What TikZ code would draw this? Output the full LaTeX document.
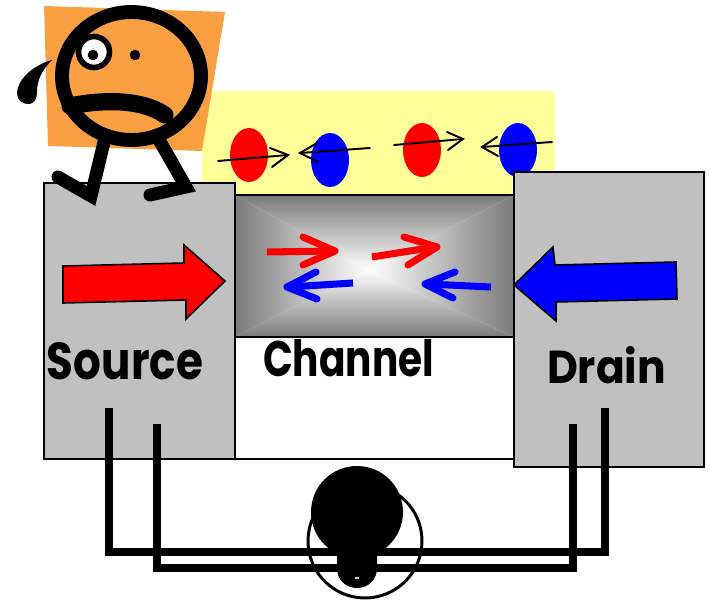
\documentclass[tikz,border=0pt]{standalone}
\usepackage{fontspec}
\setmainfont{Poppins}
\usetikzlibrary{arrows.meta}
\definecolor{facefill}{RGB}{250,160,66}
\definecolor{notefill}{RGB}{255,255,153}
\definecolor{platefill}{RGB}{192,192,192}
\definecolor{chanedge}{RGB}{122,122,122}
\definecolor{chanmid}{RGB}{200,200,200}
\definecolor{glint}{RGB}{230,220,150}
\newcommand{\platelabel}[3]{\resizebox{#1}{#2}{\bfseries #3}}

\begin{document}
\begin{tikzpicture}[x=0.02cm, y=-0.02cm,
  plate/.style={draw=black, line width=1.1pt, fill=platefill, inner sep=0pt, outer sep=0pt, anchor=north west},
  bodybox/.style={draw=black, line width=1.1pt, fill=white, inner sep=0pt, outer sep=0pt, anchor=north west},
  frame/.style={draw=black, line width=1.1pt, inner sep=0pt, outer sep=0pt, anchor=north west},
  platetext/.style={inner sep=0pt, outer sep=0pt, anchor=base west},
  blockarrow/.style={draw=black, line width=0.9pt, line join=miter},
  thinarrow/.style={draw=black, line width=1.1pt, line cap=round, line join=miter},
  chanshaft/.style={line width=4pt, line cap=butt},
  chanbarb/.style={line width=4pt, line cap=round, line join=round},
  wire/.style={draw=black, line width=4.6pt, line join=miter},
  limb/.style={draw=black, line width=7.4pt, line cap=round, line join=miter}]

\useasboundingbox (0,0) rectangle (710,604);

% yellow panel with the carriers
\fill[notefill] (202,91) rectangle (555,200);
\fill[red]  (249,155) ellipse [x radius=0.38cm, y radius=0.54cm];
\fill[blue] (330,160) ellipse [x radius=0.38cm, y radius=0.54cm];
\fill[red]  (422,150) ellipse [x radius=0.38cm, y radius=0.54cm];
\fill[blue] (518,150) ellipse [x radius=0.38cm, y radius=0.54cm];
\draw[thinarrow] (218,161) -- (288,155);
\draw[thinarrow] (270,148) -- (288,155) -- (272,167);
\draw[thinarrow] (370,148) -- (300,153);
\draw[thinarrow] (317,143) -- (300,153) -- (318,162);
\draw[thinarrow] (394,145) -- (463,139);
\draw[thinarrow] (447,132) -- (463,139) -- (448,150);
\draw[thinarrow] (552,142) -- (482,147);
\draw[thinarrow] (497,137) -- (482,147) -- (498,156);

% orange backdrop of the face
\fill[facefill] (44,6) -- (225,12) -- (202,151) -- (48,146) -- cycle;

% device body below the channel
\node[bodybox, minimum width=5.58cm, minimum height=2.44cm] (body) at (235,337) {};

% channel with a rectangular gradient
\shade[top color=chanedge, middle color=chanmid, bottom color=white] (235,195) -- (514,195) -- (368,270) -- cycle;
\shade[top color=white, middle color=chanmid, bottom color=chanedge] (235,337) -- (514,337) -- (368,270) -- cycle;
\shade[left color=chanedge, middle color=chanmid, right color=white] (235,195) -- (235,337) -- (368,270) -- cycle;
\shade[left color=white, middle color=chanmid, right color=chanedge] (514,195) -- (514,337) -- (368,270) -- cycle;
\node[frame, minimum width=5.58cm, minimum height=2.84cm] (channel) at (235,195) {};

% source and drain plates
\node[plate, minimum width=3.82cm, minimum height=5.52cm] (source) at (44,183) {};
\node[plate, minimum width=3.80cm, minimum height=5.90cm] (drain) at (514,172) {};

% big block arrows
\fill[red, blockarrow] (63,266) -- (184,263) -- (184,245) -- (225,281) -- (186,319) -- (186,300) -- (63,303) -- cycle;
\fill[blue, blockarrow] (514,285) -- (553,247) -- (555,265) -- (676,262) -- (677,299) -- (556,302) -- (556,321) -- cycle;

% arrows inside the channel
\draw[red, chanshaft] (267,252) -- (333,251);
\draw[red, chanbarb] (303,237) -- (335,251) -- (303,265);
\draw[red, chanshaft] (372,257) -- (435,247);
\draw[red, chanbarb] (404,237) -- (437,247) -- (408,265);
\draw[blue, chanshaft] (353,283) -- (289,287);
\draw[blue, chanbarb] (316,272) -- (287,287) -- (317,299);
\draw[blue, chanshaft] (491,287) -- (427,284);
\draw[blue, chanbarb] (455,272) -- (425,284) -- (453,298);

% labels
\node[platetext] (sourcelabel) at (47,380) {\platelabel{3.12cm}{0.74cm}{Source}};
\node[platetext] (channellabel) at (263,377) {\platelabel{3.42cm}{0.74cm}{Channel}};
\node[platetext] (drainlabel) at (547,384) {\platelabel{2.38cm}{0.74cm}{Drain}};

% the worried face
\fill[black] (52,60) .. controls (30,66) and (17,82) .. (17,93)
  .. controls (17,100) and (22,104) .. (28,104)
  .. controls (35,104) and (37,98) .. (37,92)
  .. controls (37,80) and (42,70) .. (52,60) -- cycle;
\draw[limb] (105,138) -- (91,196) -- (58,177);
\draw[limb] (158,138) -- (186,187) -- (150,195);
\draw[black, fill=facefill, line width=7.9pt] (131.5,76) ellipse [x radius=1.39cm, y radius=1.28cm];
\draw[black, fill=white, line width=3.2pt] (94,52) circle [radius=0.31cm];
\fill[black] (93,55) circle [radius=0.106cm];
\fill[black] (135,55) circle [radius=0.106cm];
\draw[black, line width=9.8pt, line cap=round] (70,106) .. controls (100,100) and (140,98) .. (165,115);

% wires to the lamp
\coordinate (srcA) at (109,408);
\coordinate (srcB) at (157,424);
\coordinate (drnA) at (605,408);
\coordinate (drnB) at (573,424);
\draw[wire] (srcA) -- (srcA |- 0,552) -- (drnA |- 0,552) -- (drnA);
\draw[wire] (srcB) -- (srcB |- 0,568) -- (drnB |- 0,568) -- (drnB);

% lamp
\draw[black, line width=1.7pt] (365,541) circle [radius=1.14cm];
\fill[black] (357,512) circle [radius=0.92cm];
\fill[black] (319,530) -- (337,556) -- (337,568)
  .. controls (337,580) and (346,588) .. (357,588)
  .. controls (368,588) and (377,580) .. (377,568)
  -- (377,556) -- (395,530) -- cycle;
\draw[glint, line width=0.6pt] (355,578) -- (359,578);
\end{tikzpicture}
\end{document}
